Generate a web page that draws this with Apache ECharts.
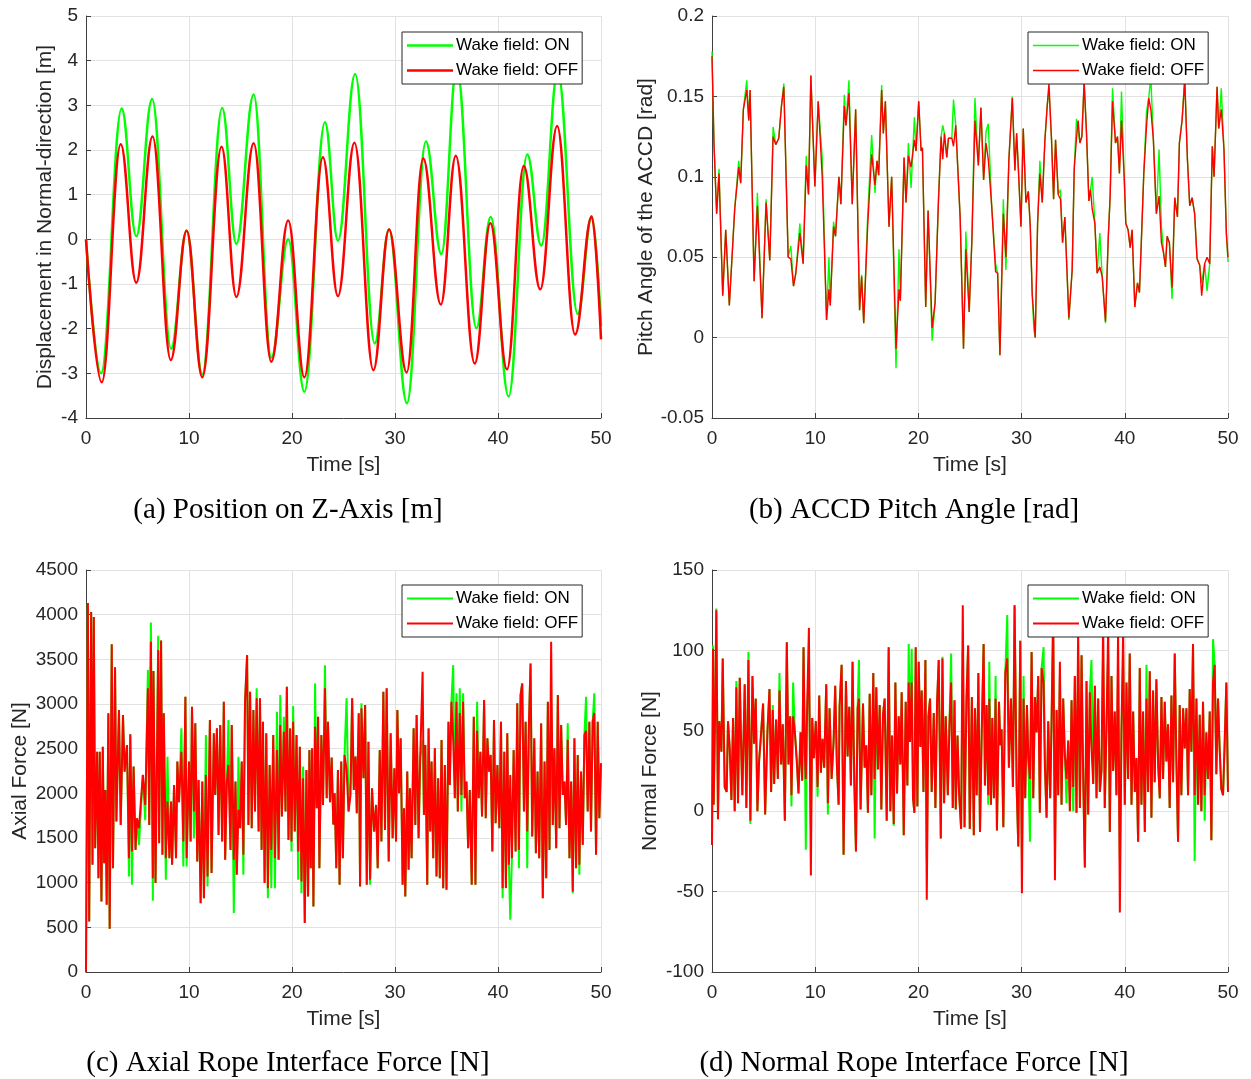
<!DOCTYPE html>
<html>
<head>
<meta charset="utf-8">
<script src="https://cdn.jsdelivr.net/npm/echarts@6/dist/echarts.min.js"></script>
<style>
html,body{margin:0;padding:0;background:#fff;}
#chart{width:1251px;height:1079px;}
</style>
</head>
<body>
<div id="chart"></div>
<script>
// ---------- (a) Position on Z-axis [m] ----------
const aTimeOn = [0, 1.47, 3.46, 4.88, 6.42, 8.26, 9.77, 11.29, 13.22, 14.6, 16.28, 17.99, 19.63, 21.2, 23.2, 24.46, 26.13, 28.03, 29.42, 31.16, 33.0, 34.5, 36.0, 37.9, 39.29, 41.03, 42.84, 44.2, 45.8, 47.74, 49.1, 50];
const aOn = [0, -3.0, 2.93, 0.07, 3.14, -2.45, 0.19, -3.02, 2.94, -0.1, 3.24, -2.65, 0.0, -3.41, 2.62, -0.03, 3.70, -2.33, 0.22, -3.67, 2.19, -0.33, 3.85, -1.99, 0.50, -3.52, 1.90, -0.14, 3.75, -1.67, 0.51, -1.94];
const aTimeOff = [0, 1.53, 3.37, 4.88, 6.46, 8.23, 9.77, 11.29, 13.16, 14.6, 16.28, 17.99, 19.63, 21.2, 23.0, 24.46, 26.06, 27.9, 29.42, 31.13, 32.74, 34.45, 35.9, 37.74, 39.26, 40.87, 42.5, 44.1, 45.74, 47.48, 49.1, 50];
const aOff = [0, -3.2, 2.13, -0.97, 2.30, -2.70, 0.19, -3.09, 2.07, -1.29, 2.15, -2.74, 0.42, -3.09, 1.84, -1.27, 2.16, -2.93, 0.22, -2.98, 1.81, -1.46, 1.87, -2.78, 0.36, -2.91, 1.64, -1.12, 2.54, -2.13, 0.51, -2.24];

// ---------- (b) ACCD pitch angle [rad] ----------
const bTime = [0, 0.19, 0.45, 0.68, 1.04, 1.33, 1.68, 2.2, 2.59, 2.78,
 3.04, 3.37, 3.56, 3.69, 4.08, 4.4, 4.85, 5.24, 5.6, 5.92,
 6.18, 6.47, 6.73, 6.96, 7.38, 7.64, 7.9, 8.12, 8.51, 8.83,
 9.13, 9.35, 9.58, 9.97, 10.29, 10.68, 11.1, 11.33, 11.46, 11.78,
 11.97, 12.3, 12.49, 12.82, 12.98, 13.27, 13.59, 13.92, 14.3, 14.5,
 14.7, 15.08, 15.47, 15.79, 15.99, 16.15, 16.44, 16.6, 16.8, 17.15,
 17.41, 17.83, 18.12, 18.25, 18.61, 18.8, 19.03, 19.29, 19.61, 19.77,
 20.03, 20.26, 20.39, 20.71, 20.94, 21.33, 21.62, 21.94, 22.2, 22.36,
 22.52, 22.75, 22.91, 23.24, 23.4, 23.62, 24.05, 24.37, 24.6, 24.92,
 25.18, 25.48, 25.81, 26.06, 26.32, 26.55, 26.77, 27.1, 27.48, 27.68,
 27.9, 28.23, 28.48, 28.77, 29.1, 29.35, 29.52, 29.68, 29.94, 30.16,
 30.42, 30.65, 30.84, 31.03, 31.19, 31.32, 31.55, 31.77, 32.0, 32.26,
 32.48, 32.65, 32.9, 33.1, 33.29, 33.55, 33.77, 33.97, 34.19, 34.58,
 34.9, 35.1, 35.32, 35.48, 35.65, 35.84, 36.06, 36.29, 36.52, 36.68,
 36.84, 37.1, 37.32, 37.58, 37.81, 38.13, 38.39, 38.58, 38.81, 39.1,
 39.29, 39.48, 39.68, 39.94, 40.1, 40.32, 40.52, 40.71, 40.97, 41.23,
 41.42, 41.61, 41.84, 42.1, 42.32, 42.52, 42.77, 43.06, 43.32, 43.55,
 43.77, 43.94, 44.1, 44.32, 44.58, 44.84, 45.1, 45.29, 45.55, 45.81,
 46.06, 46.29, 46.52, 46.77, 47.0, 47.26, 47.45, 47.74, 47.97, 48.23,
 48.48, 48.65, 48.94, 49.1, 49.35, 49.61, 49.84, 50];
const bOff = [0.175, 0.121, 0.077, 0.102, 0.026, 0.067, 0.020, 0.080, 0.106, 0.096,
 0.142, 0.154, 0.135, 0.154, 0.035, 0.082, 0.012, 0.084, 0.048, 0.125,
 0.120, 0.124, 0.144, 0.156, 0.050, 0.049, 0.032, 0.040, 0.065, 0.046,
 0.107, 0.089, 0.163, 0.094, 0.147, 0.100, 0.011, 0.030, 0.020, 0.069,
 0.063, 0.100, 0.083, 0.144, 0.132, 0.152, 0.083, 0.142, 0.017, 0.038,
 0.009, 0.069, 0.114, 0.095, 0.110, 0.101, 0.154, 0.127, 0.147, 0.069,
 0.100, -0.007, 0.030, 0.023, 0.112, 0.084, 0.113, 0.106, 0.123, 0.116,
 0.147, 0.116, 0.118, 0.019, 0.079, 0.006, 0.022, 0.084, 0.125, 0.111,
 0.127, 0.112, 0.124, 0.124, 0.119, 0.132, 0.074, -0.007, 0.055, 0.016,
 0.060, 0.135, 0.107, 0.143, 0.098, 0.121, 0.111, 0.082, 0.041, 0.040,
 -0.011, 0.077, 0.050, 0.111, 0.149, 0.104, 0.127, 0.106, 0.069, 0.130,
 0.084, 0.091, 0.069, 0.027, 0.027, 0.000, 0.071, 0.102, 0.084, 0.123,
 0.144, 0.158, 0.123, 0.086, 0.123, 0.089, 0.086, 0.059, 0.075, 0.012,
 0.042, 0.105, 0.124, 0.135, 0.121, 0.125, 0.159, 0.127, 0.085, 0.092,
 0.080, 0.071, 0.040, 0.044, 0.038, 0.010, 0.061, 0.088, 0.147, 0.121,
 0.125, 0.102, 0.135, 0.100, 0.071, 0.067, 0.056, 0.067, 0.019, 0.034,
 0.028, 0.061, 0.102, 0.131, 0.149, 0.142, 0.123, 0.077, 0.088, 0.059,
 0.052, 0.044, 0.063, 0.059, 0.031, 0.087, 0.075, 0.121, 0.135, 0.160,
 0.112, 0.082, 0.087, 0.077, 0.049, 0.045, 0.026, 0.046, 0.050, 0.046,
 0.119, 0.100, 0.156, 0.130, 0.142, 0.117, 0.065, 0.050];
const bOn = [0.178, 0.121, 0.077, 0.105, 0.026, 0.067, 0.020, 0.080, 0.110, 0.096,
 0.142, 0.160, 0.135, 0.154, 0.035, 0.090, 0.012, 0.086, 0.048, 0.131,
 0.120, 0.124, 0.144, 0.158, 0.050, 0.057, 0.032, 0.040, 0.071, 0.046,
 0.113, 0.089, 0.163, 0.094, 0.147, 0.112, 0.011, 0.050, 0.020, 0.072,
 0.063, 0.100, 0.083, 0.151, 0.132, 0.160, 0.083, 0.142, 0.017, 0.039,
 0.009, 0.075, 0.126, 0.090, 0.110, 0.101, 0.157, 0.127, 0.147, 0.069,
 0.100, -0.019, 0.055, 0.023, 0.112, 0.084, 0.121, 0.093, 0.137, 0.116,
 0.147, 0.116, 0.118, 0.019, 0.079, -0.002, 0.022, 0.086, 0.125, 0.132,
 0.127, 0.112, 0.124, 0.124, 0.148, 0.132, 0.074, -0.007, 0.066, 0.016,
 0.060, 0.149, 0.107, 0.143, 0.098, 0.128, 0.133, 0.082, 0.046, 0.040,
 -0.011, 0.086, 0.042, 0.111, 0.150, 0.104, 0.127, 0.106, 0.069, 0.130,
 0.084, 0.091, 0.069, 0.027, 0.005, 0.000, 0.071, 0.110, 0.084, 0.123,
 0.144, 0.154, 0.123, 0.086, 0.123, 0.089, 0.092, 0.059, 0.075, 0.011,
 0.042, 0.105, 0.136, 0.135, 0.121, 0.125, 0.159, 0.127, 0.085, 0.092,
 0.100, 0.071, 0.040, 0.065, 0.038, 0.009, 0.061, 0.088, 0.155, 0.121,
 0.125, 0.102, 0.153, 0.100, 0.071, 0.067, 0.056, 0.067, 0.019, 0.034,
 0.028, 0.061, 0.102, 0.140, 0.149, 0.162, 0.123, 0.077, 0.117, 0.069,
 0.052, 0.044, 0.063, 0.059, 0.024, 0.087, 0.075, 0.121, 0.135, 0.162,
 0.112, 0.082, 0.087, 0.077, 0.049, 0.045, 0.034, 0.046, 0.029, 0.046,
 0.119, 0.100, 0.156, 0.130, 0.155, 0.117, 0.065, 0.047];

// ---------- (c) Axial rope interface force [N] ----------
const cTime = [0, 0.18, 0.31, 0.50, 0.63, 0.76, 0.89, 1.08, 1.21, 1.34,
 1.50, 1.63, 1.76, 1.88, 2.01, 2.17, 2.30, 2.50, 2.62, 2.82,
 2.95, 3.20, 3.37, 3.59, 3.75, 3.98, 4.17, 4.30, 4.46, 4.62,
 4.81, 4.94, 5.14, 5.52, 5.75, 6.01, 6.14, 6.30, 6.49, 6.55,
 6.75, 7.01, 7.10, 7.29, 7.42, 7.55, 7.75, 7.91, 8.10, 8.26,
 8.36, 8.55, 8.74, 8.87, 9.03, 9.26, 9.45, 9.65, 9.77, 10.0,
 10.16, 10.29, 10.48, 10.61, 10.80, 10.93, 11.13, 11.29, 11.45, 11.64,
 11.80, 12.03, 12.19, 12.41, 12.54, 12.71, 12.87, 13.03, 13.22, 13.38,
 13.51, 13.67, 13.83, 14.03, 14.15, 14.35, 14.51, 14.64, 14.80, 14.96,
 15.12, 15.28, 15.44, 15.64, 15.77, 15.93, 16.09, 16.25, 16.41, 16.57,
 16.76, 16.89, 17.05, 17.18, 17.34, 17.50, 17.66, 17.83, 17.99, 18.18,
 18.34, 18.54, 18.70, 18.86, 19.02, 19.21, 19.37, 19.50, 19.66, 19.82,
 19.95, 20.11, 20.27, 20.44, 20.60, 20.76, 20.92, 21.08, 21.24, 21.40,
 21.56, 21.69, 21.82, 21.95, 22.08, 22.24, 22.40, 22.53, 22.66, 22.85,
 23.01, 23.20, 23.37, 23.49, 23.69, 23.85, 24.01, 24.14, 24.30, 24.46,
 24.62, 24.78, 24.94, 25.10, 25.30, 25.49, 25.68, 25.84, 26.00, 26.16,
 26.29, 26.48, 26.61, 26.74, 26.94, 27.10, 27.26, 27.42, 27.58, 27.77,
 27.97, 28.16, 28.32, 28.52, 28.68, 28.87, 29.03, 29.19, 29.39, 29.58,
 29.77, 29.94, 30.10, 30.23, 30.39, 30.55, 30.74, 30.87, 31.00, 31.19,
 31.32, 31.45, 31.61, 31.81, 31.97, 32.10, 32.29, 32.45, 32.68, 32.81,
 32.94, 33.13, 33.26, 33.42, 33.55, 33.71, 33.87, 34.03, 34.19, 34.35,
 34.52, 34.68, 34.84, 35.00, 35.19, 35.32, 35.48, 35.65, 35.81, 35.97,
 36.10, 36.29, 36.45, 36.61, 36.77, 36.94, 37.10, 37.26, 37.45, 37.65,
 37.81, 37.97, 38.13, 38.29, 38.45, 38.65, 38.81, 38.97, 39.13, 39.29,
 39.45, 39.61, 39.77, 39.94, 40.13, 40.29, 40.45, 40.61, 40.77, 40.90,
 41.06, 41.19, 41.35, 41.52, 41.71, 41.87, 42.03, 42.19, 42.35, 42.52,
 42.68, 42.84, 43.00, 43.16, 43.32, 43.52, 43.68, 43.84, 44.00, 44.19,
 44.35, 44.52, 44.68, 44.84, 45.00, 45.16, 45.32, 45.48, 45.65, 45.81,
 45.97, 46.13, 46.29, 46.45, 46.61, 46.77, 46.94, 47.10, 47.26, 47.42,
 47.58, 47.74, 47.90, 48.06, 48.23, 48.39, 48.55, 48.71, 48.87, 49.03,
 49.19, 49.35, 49.52, 49.68, 49.84, 50.00];
const cOff = [0, 4130, 566, 4030, 1200, 3975, 1386, 2466, 1050, 2466,
 790, 2520, 1218, 2038, 753, 2895, 484, 3670, 1162, 3410,
 1684, 2932, 1647, 2876, 2243, 2541, 1274, 2660, 1349, 2299,
 1367, 1721, 1610, 2206, 1870, 3175, 1647, 3696, 1050, 3368,
 995, 3603, 1442, 3711, 1312, 2895, 1274, 1908, 1274, 1908,
 1200, 2094, 1274, 2355, 1900, 2466, 1461, 3081, 1274, 2355,
 1461, 2970, 1796, 2783, 1237, 2150, 771, 2131, 827, 2206,
 1069, 2821, 1107, 2672, 1982, 2727, 1535, 2765, 1461, 3026,
 1256, 2113, 2318, 1367, 2765, 1256, 2131, 1088, 1815, 1610,
 2355, 1312, 3026, 3547, 1647, 3137, 1610, 2932, 1796, 3063,
 1572, 3063, 1367, 2802, 995, 2672, 939, 2318, 1367, 2653,
 1274, 2485, 1256, 2765, 1740, 2690, 1796, 3193, 1479, 2727,
 1461, 2802, 1572, 2653, 1349, 2520, 1013, 2169, 548, 2262,
 846, 2485, 1162, 2504, 734, 2746, 1833, 2858, 1162, 2653,
 1870, 3175, 1945, 2802, 1900, 2400, 1650, 2000, 1162, 2262,
 976, 2355, 1274, 2430, 2262, 1796, 1982, 3063, 2038, 2411,
 1777, 2895, 958, 2951, 2169, 2988, 976, 2578, 1032, 2057,
 1572, 1870, 1162, 2485, 1461, 3137, 1591, 3175, 1237, 2672,
 1498, 2280, 1461, 2932, 2000, 2616, 976, 1833, 846, 2243,
 1144, 2057, 1274, 2727, 1647, 2876, 1498, 2411, 3361, 1759,
 2541, 976, 2727, 1572, 2355, 1274, 2504, 1069, 2169, 1050,
 2597, 939, 2318, 920, 2802, 2094, 3026, 2600, 1945, 3026,
 1796, 2900, 1982, 3026, 1945, 2131, 1386, 2038, 976, 2858,
 976, 2700, 1945, 2466, 1740, 3044, 1721, 2616, 2243, 2430,
 1349, 2821, 1666, 2318, 1610, 2802, 939, 2466, 939, 2672,
 1200, 2206, 1274, 2485, 1349, 3007, 1367, 3100, 3230, 1796,
 2802, 1572, 2765, 3454, 1516, 2616, 1330, 2243, 1274, 2783,
 827, 2355, 1050, 3026, 1367, 3696, 1647, 2504, 1386, 3100,
 1610, 2765, 1982, 2131, 1647, 2600, 1274, 2131, 902, 2616,
 1162, 2430, 1200, 2243, 1423, 2653, 2700, 1796, 2802, 1572,
 2802, 2900, 1312, 2802, 1721, 2336];
const cOn = [0, 4130, 566, 4030, 1200, 3975, 1386, 2466, 1050, 2466,
 790, 2520, 1218, 2038, 753, 2895, 484, 3670, 1162, 3410,
 1684, 2932, 1647, 2876, 2243, 2541, 1069, 2660, 976, 2299,
 1367, 1721, 1420, 2206, 1700, 3380, 1647, 3912, 797, 3368,
 995, 3763, 1442, 3711, 1312, 2895, 1032, 2410, 1274, 1908,
 1200, 2094, 1274, 2355, 1900, 2727, 1181, 3081, 1181, 2355,
 1461, 2970, 1498, 2783, 1237, 2150, 771, 2131, 827, 2653,
 958, 2821, 1107, 2672, 1982, 2727, 1535, 2765, 1461, 3026,
 1256, 2113, 2821, 1367, 2765, 660, 2131, 1088, 2410, 1610,
 2355, 1088, 3026, 3547, 1647, 3137, 1610, 2932, 1796, 3175,
 1572, 3063, 1367, 2802, 995, 2672, 827, 2318, 939, 2653,
 939, 2914, 1256, 3100, 1740, 2858, 1796, 3193, 1479, 2727,
 1349, 2977, 1572, 2653, 1032, 2520, 883, 2299, 548, 2262,
 846, 2485, 1162, 2504, 734, 3230, 1833, 2858, 1162, 2653,
 1870, 3435, 1945, 2802, 1900, 2400, 1650, 2000, 1162, 2262,
 976, 2355, 1274, 2430, 3063, 1796, 2131, 3063, 2038, 2411,
 1777, 2895, 958, 3007, 2169, 2988, 976, 2578, 976, 2057,
 1572, 1870, 1162, 2485, 1461, 3137, 1591, 3175, 1237, 2672,
 1498, 2280, 1461, 2932, 2000, 2616, 976, 1833, 846, 2243,
 1144, 2057, 1274, 2727, 1647, 2876, 1498, 2411, 2600, 1759,
 2541, 976, 2727, 1572, 2355, 1274, 2504, 1069, 2169, 1050,
 2597, 939, 2318, 920, 2802, 2094, 3026, 3435, 1945, 3119,
 1796, 3175, 1796, 3119, 1945, 2131, 1386, 2038, 976, 2858,
 976, 3026, 1945, 2466, 1740, 3044, 1721, 2616, 2243, 2430,
 1349, 2821, 1666, 2318, 1610, 2802, 827, 2466, 939, 2672,
 1200, 585, 1274, 2485, 1349, 3007, 1162, 3100, 3230, 1796,
 2802, 1162, 2765, 3454, 1516, 2616, 1330, 2243, 1274, 2783,
 827, 2355, 1050, 3026, 1367, 3000, 1647, 2504, 1386, 3100,
 1610, 2765, 1982, 2131, 1647, 2783, 1274, 2131, 883, 2616,
 1162, 2430, 1088, 2243, 1423, 2653, 3081, 1796, 2802, 1572,
 2802, 3119, 1312, 2802, 1721, 2336];

// ---------- (d) Normal rope interface force [N] ----------
const dTime = [0, 0.1, 0.16, 0.29, 0.42, 0.58, 0.71, 0.91, 1.04, 1.23,
 1.42, 1.55, 1.72, 1.88, 2.04, 2.20, 2.36, 2.52, 2.69, 2.85,
 2.94, 3.17, 3.33, 3.53, 3.72, 3.92, 4.08, 4.24, 4.40, 4.56,
 4.72, 4.95, 5.15, 5.37, 5.57, 5.73, 5.89, 6.02, 6.21, 6.38,
 6.54, 6.70, 6.86, 7.06, 7.25, 7.41, 7.57, 7.70, 7.86, 8.03,
 8.22, 8.38, 8.58, 8.74, 8.87, 9.00, 9.09, 9.22, 9.39, 9.58,
 9.71, 9.87, 10.06, 10.23, 10.39, 10.55, 10.71, 10.87, 11.07, 11.23,
 11.39, 11.59, 11.78, 11.94, 12.10, 12.27, 12.36, 12.56, 12.75, 12.98,
 13.14, 13.30, 13.46, 13.62, 13.79, 13.95, 14.11, 14.24, 14.40, 14.63,
 14.79, 14.95, 15.11, 15.28, 15.44, 15.63, 15.76, 15.92, 16.08, 16.25,
 16.41, 16.57, 16.73, 16.93, 17.12, 17.28, 17.44, 17.61, 17.77, 17.93,
 18.09, 18.25, 18.38, 18.58, 18.77, 18.93, 19.06, 19.19, 19.35, 19.48,
 19.61, 19.74, 19.90, 20.03, 20.19, 20.32, 20.49, 20.68, 20.81, 20.97,
 21.13, 21.29, 21.49, 21.65, 21.81, 21.97, 22.17, 22.33, 22.49, 22.65,
 22.85, 23.01, 23.17, 23.33, 23.50, 23.62, 23.79, 23.95, 24.14, 24.30,
 24.47, 24.66, 24.82, 24.98, 25.18, 25.37, 25.48, 25.65, 25.81, 25.97,
 26.13, 26.32, 26.45, 26.61, 26.77, 26.87, 27.03, 27.16, 27.32, 27.48,
 27.61, 27.81, 27.94, 28.06, 28.23, 28.42, 28.61, 28.77, 28.97, 29.16,
 29.32, 29.52, 29.68, 29.87, 30.03, 30.19, 30.35, 30.52, 30.65, 30.81,
 30.97, 31.13, 31.29, 31.45, 31.61, 31.77, 31.94, 32.13, 32.26, 32.42,
 32.58, 32.77, 32.90, 33.06, 33.23, 33.39, 33.55, 33.71, 33.87, 34.03,
 34.19, 34.35, 34.52, 34.68, 34.84, 35.00, 35.16, 35.32, 35.48, 35.65,
 35.81, 35.97, 36.13, 36.29, 36.45, 36.61, 36.77, 36.94, 37.10, 37.26,
 37.42, 37.58, 37.74, 37.90, 38.06, 38.23, 38.39, 38.55, 38.71, 38.87,
 39.03, 39.19, 39.35, 39.52, 39.68, 39.84, 40.00, 40.16, 40.32, 40.48,
 40.65, 40.81, 40.97, 41.13, 41.29, 41.45, 41.61, 41.77, 41.94, 42.10,
 42.26, 42.42, 42.58, 42.74, 42.90, 43.06, 43.23, 43.39, 43.55, 43.71,
 43.87, 44.03, 44.19, 44.35, 44.52, 44.68, 44.84, 45.00, 45.16, 45.32,
 45.48, 45.65, 45.81, 45.97, 46.13, 46.29, 46.45, 46.61, 46.77, 46.94,
 47.10, 47.26, 47.42, 47.58, 47.74, 47.90, 48.06, 48.23, 48.39, 48.55,
 48.71, 48.87, 49.03, 49.19, 49.35, 49.52, 49.68, 49.84, 50.00];
const dOff = [-21, 101, 4, 56, 125, -5, 56, 37, 95, 15,
 12, 56, 39, 7, 58, 0, 77, 5, 83, 33,
 10, 79, 2, 94, -6, 84, 42, 70, 0, 31,
 45, 67, -2, 49, 76, 12, 63, 17, 57, 20,
 75, 29, 54, -6, 105, 29, 59, 10, 59, 49,
 31, 11, 49, 19, 102, 36, 20, 64, 114, -40,
 58, 33, 56, 15, 72, 24, 45, 27, 79, 5,
 64, 20, 43, 78, 29, 4, 65, 91, -27, 81,
 34, 65, 16, 93, 18, -25, 64, 70, 1, 67,
 27, 41, -1, 73, 10, 86, 20, 77, 26, 66,
 1, 60, 70, -6, 102, 0, 47, -8, 80, 11,
 59, 29, 74, -15, 68, 16, 80, 43, 80, 8,
 -1, 102, 3, 93, 40, 75, 12, 94, -55, 59,
 70, 12, 61, 2, 68, 94, -17, 95, 5, 59,
 10, 54, 80, 2, 69, 1, 47, 10, -11, 128,
 -10, 70, 103, -11, 71, -15, 64, 10, 86, -13,
 47, 104, 16, 66, 10, 70, 4, 58, 8, 70,
 -12, 68, 41, 51, -10, 86, 95, 27, 70, 15,
 128, 15, -22, 106, -51, 70, 8, 66, 33, 20,
 99, 8, 71, 49, 84, -1, 89, 80, 28, -4,
 56, 8, 54, 128, -43, 63, 10, 93, 4, 70,
 35, 20, 44, 0, 69, 15, 84, -1, 112, 2,
 97, 20, -35, 81, -2, 74, 40, 17, 78, 8,
 70, 12, 25, 118, 2, 54, 115, -13, 84, 25,
 62, 10, 112, -63, 51, 112, 4, 80, 20, 98,
 4, 62, 12, 33, -19, 89, 4, 62, -13, 70,
 12, 87, -4, 75, 18, 82, 29, 8, 71, 20,
 68, 31, 54, 2, 72, 18, 98, 31, -19, 66,
 10, 64, 39, 64, 10, 76, 37, 104, 10, 70,
 4, 60, 0, 68, 10, 49, 20, 62, -18, 80,
 91, 23, 70, 39, 14, 10, 43, 80, 12];
const dOn = [-21, 103, 4, 56, 126, -5, 56, 37, 95, 15,
 12, 56, 39, 7, 58, 0, 81, 5, 83, 33,
 10, 79, 2, 99, -8, 84, 42, 70, 0, 31,
 45, 67, -2, 49, 76, 12, 66, 17, 57, 20,
 86, 29, 54, -6, 105, 29, 59, 3, 80, 49,
 31, 11, 49, 19, 102, 36, -24, 64, 88, -10,
 58, 33, 56, 9, 72, 24, 45, 27, 79, -2,
 64, 20, 43, 78, 29, 4, 65, 91, -27, 81,
 34, 65, 16, 93, 18, -25, 64, 94, 1, 67,
 27, 41, -1, 73, 10, 86, -17, 77, 26, 66,
 1, 60, 70, -6, 102, 0, 47, -9, 80, 11,
 59, 29, 74, -15, 68, 16, 104, 43, 101, 8,
 -1, 102, 3, 93, 40, 75, 12, 94, -30, 59,
 70, 12, 61, 2, 68, 94, -17, 96, 5, 59,
 10, 54, 98, 2, 69, 1, 47, 10, -11, 100,
 -10, 70, 103, -11, 71, -15, 64, 10, 86, -13,
 47, 104, 16, 66, 4, 93, 4, 58, 8, 84,
 -12, 68, 41, 51, -10, 86, 122, 27, 70, 15,
 128, 15, -22, 106, -30, 84, 8, 66, 33, -19,
 99, 8, 71, 49, 84, -1, 89, 102, 28, -4,
 56, 8, 54, 110, -20, 63, 10, 84, 4, 70,
 35, 5, 44, 0, 69, 0, 84, -1, 95, 2,
 97, 20, -35, 81, -2, 74, 94, 17, 78, 8,
 70, 12, 25, 100, 2, 54, 98, -13, 84, 25,
 62, 10, 90, -30, 51, 95, 4, 80, 20, 98,
 4, 62, 12, 33, -19, 89, 4, 62, -13, 91,
 12, 87, -4, 75, 18, 82, 29, 8, 71, 20,
 68, 31, 54, 2, 72, 18, 98, 31, -19, 66,
 10, 64, 39, 64, 10, 76, 37, 104, -31, 70,
 4, 60, 0, 68, -6, 49, 20, 62, -18, 107,
 91, 23, 70, 39, 14, 10, 43, 80, 12];

// ---------- labels ----------
const seriesNames = ['Wake field: ON', 'Wake field: OFF'];
const xTitle = 'Time [s]';
const yTitles = ['Displacement in Normal-direction [m]', 'Pitch Angle of the ACCD [rad]', 'Axial Force [N]', 'Normal Force [N]'];
const captions = ['(a) Position on Z-Axis [m]', '(b) ACCD Pitch Angle [rad]', '(c) Axial Rope Interface Force [N]', '(d) Normal Rope Interface Force [N]'];
const yRanges = [[-4, 5, 1], [-0.05, 0.2, 0.05], [0, 4500, 500], [-100, 150, 50]];

function pairs(t, v) {
  const n = Math.min(t.length, v.length);
  const out = [];
  for (let i = 0; i < n; i++) out.push([t[i], v[i]]);
  return out;
}
function tickText(v) {
  return String(parseFloat(v.toPrecision(10)));
}

const SANS = '"Liberation Sans", Arial, Helvetica, sans-serif';
const AXIS_COLOR = '#404040';
const TEXT_COLOR = '#262626';
const GRID_COLOR = '#e2e2e2';
const GREEN = '#00ff00';
const RED = '#ff0000';

const grids = [
  { left: 86, top: 16, width: 515, height: 402 },
  { left: 712, top: 16, width: 516, height: 402 },
  { left: 86, top: 570, width: 515, height: 402 },
  { left: 712, top: 570, width: 516, height: 402 }
];
const yNameGaps = [30, 55, 55, 51];

const xAxes = grids.map((g, i) => ({
  type: 'value', gridIndex: i, min: 0, max: 50, interval: 10,
  name: xTitle, nameLocation: 'middle', nameGap: 37,
  nameTextStyle: { fontFamily: SANS, fontSize: 21, color: TEXT_COLOR },
  axisLine: { show: true, onZero: false, lineStyle: { color: AXIS_COLOR, width: 1 } },
  axisTick: { show: true, inside: true, length: 5, lineStyle: { color: AXIS_COLOR } },
  axisLabel: { fontFamily: SANS, fontSize: 19, color: TEXT_COLOR, margin: 11, formatter: tickText },
  splitLine: { show: true, lineStyle: { color: GRID_COLOR, width: 1 } }
}));

const yAxes = grids.map((g, i) => ({
  type: 'value', gridIndex: i, min: yRanges[i][0], max: yRanges[i][1], interval: yRanges[i][2],
  name: yTitles[i], nameLocation: 'middle', nameGap: yNameGaps[i],
  nameTextStyle: { fontFamily: SANS, fontSize: 21, color: TEXT_COLOR },
  axisLine: { show: true, onZero: false, lineStyle: { color: AXIS_COLOR, width: 1 } },
  axisTick: { show: true, inside: true, length: 5, lineStyle: { color: AXIS_COLOR } },
  axisLabel: { fontFamily: SANS, fontSize: 19, color: TEXT_COLOR, margin: 8, formatter: tickText },
  splitLine: { show: true, lineStyle: { color: GRID_COLOR, width: 1 } }
}));

function lineSeries(name, idx, data, color, width, extra) {
  return Object.assign({
    type: 'line', name: name, xAxisIndex: idx, yAxisIndex: idx,
    data: data, showSymbol: false, symbol: 'none',
    lineStyle: { color: color, width: width }, itemStyle: { color: color },
    emphasis: { disabled: true }, clip: true, animation: false
  }, extra || {});
}

const smoothOpt = { smooth: 0.4, smoothMonotone: 'x' };
const series = [
  lineSeries(seriesNames[0], 0, pairs(aTimeOn, aOn), GREEN, 2.5, smoothOpt),
  lineSeries(seriesNames[1], 0, pairs(aTimeOff, aOff), RED, 2.5, smoothOpt),
  lineSeries(seriesNames[0], 1, pairs(bTime, bOn), GREEN, 1.4),
  lineSeries(seriesNames[1], 1, pairs(bTime, bOff), RED, 1.4),
  lineSeries(seriesNames[0], 2, pairs(cTime, cOn), GREEN, 2),
  lineSeries(seriesNames[1], 2, pairs(cTime, cOff), RED, 2),
  lineSeries(seriesNames[0], 3, pairs(dTime, dOn), GREEN, 2),
  lineSeries(seriesNames[1], 3, pairs(dTime, dOff), RED, 2)
];

const legendPos = [[402, 32, 2.5], [1028, 32, 1.4], [402, 585, 2.2], [1028, 585, 2.2]];
const legends = legendPos.map(p => ({
  show: true, orient: 'vertical', left: p[0], top: p[1],
  data: seriesNames, icon: 'rect', itemWidth: 46, itemHeight: p[2], itemGap: 8,
  padding: [5, 4, 5, 5], backgroundColor: '#ffffff', borderColor: '#262626', borderWidth: 1,
  borderRadius: 0, selectedMode: false, z: 10,
  textStyle: { fontFamily: SANS, fontSize: 17, color: '#000000', padding: [0, 0, 0, -2] }
}));

const captionPos = [[288, 510], [914, 510], [288, 1063], [914, 1063]];
const graphics = captions.map((c, i) => ({
  type: 'text', x: captionPos[i][0], y: captionPos[i][1], z: 100,
  style: {
    text: c, font: '29px "Liberation Serif", "Times New Roman", serif', fill: '#000000',
    align: 'center', verticalAlign: 'middle', textAlign: 'center', textVerticalAlign: 'middle'
  }
}));

const chart = echarts.init(document.getElementById('chart'), null, { renderer: 'canvas' });
chart.setOption({
  animation: false,
  backgroundColor: '#ffffff',
  grid: grids,
  xAxis: xAxes,
  yAxis: yAxes,
  legend: legends,
  series: series,
  graphic: graphics
});
</script>
</body>
</html>
